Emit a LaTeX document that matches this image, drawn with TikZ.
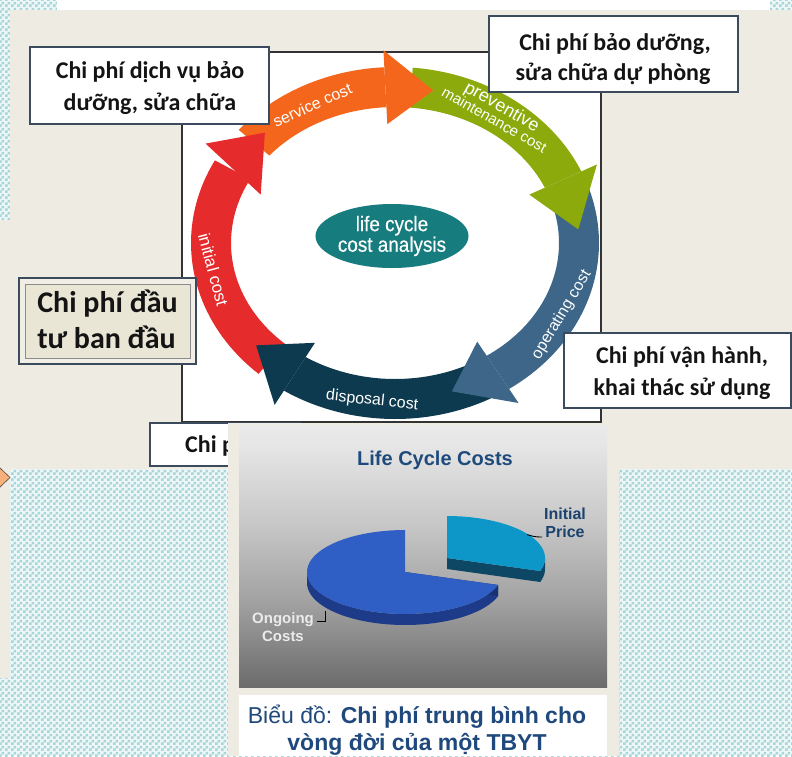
\documentclass[tikz,border=0pt]{standalone}
\usepackage{fontspec}
\usetikzlibrary{shapes.geometric,patterns}
\newfontfamily\arialf{Liberation Sans}
\newfontfamily\arialn[FakeStretch=0.9,FakeBold=0.4]{Liberation Sans}
\newfontfamily\calib{Carlito}

\definecolor{beige}{HTML}{EDEBE2}
\definecolor{chkc}{HTML}{A6D6DA}
\definecolor{chkbg}{HTML}{EEF7F7}
\definecolor{boxline}{HTML}{3B4A5C}
\definecolor{cred}{HTML}{E62B2C}
\definecolor{corange}{HTML}{F4661B}
\definecolor{cgreen}{HTML}{8CAA0C}
\definecolor{cblue}{HTML}{3D6688}
\definecolor{cnavy}{HTML}{0D3A4E}
\definecolor{cteal}{HTML}{177C7E}
\definecolor{pieblue}{HTML}{2F5EC4}
\definecolor{piebluesd}{HTML}{1D3B88}
\definecolor{pielb}{HTML}{0C97C8}
\definecolor{pielbsd}{HTML}{0D4763}
\definecolor{titleblue}{HTML}{1F4A7C}
\definecolor{capblue}{HTML}{1F497D}
\definecolor{bevel}{HTML}{F1EFE5}
\definecolor{bevelin}{HTML}{E9E6D6}
\definecolor{orangeL}{HTML}{F8B07A}

\pgfdeclarepatternformonly{chk}{\pgfpointorigin}{\pgfqpoint{6pt}{6pt}}{\pgfqpoint{6pt}{6pt}}{%
 \pgfpathrectangle{\pgfpointorigin}{\pgfqpoint{3pt}{3pt}}%
 \pgfpathrectangle{\pgfqpoint{3pt}{3pt}}{\pgfqpoint{3pt}{3pt}}%
 \pgfusepath{fill}}

\pgfdeclareverticalshading{chartsh}{100bp}{color(0bp)=(black); color(13bp)=(black!80); color(25bp)=(black!58); color(41bp)=(black!37); color(56bp)=(black!22); color(71bp)=(black!10); color(87bp)=(black!3); color(100bp)=(white)}

\newcommand\ringband[3]{\fill[#1] plot[domain=#2:#3,samples=40] ({ex(\x,20)},{ey(\x,20)}) -- plot[domain=#3:#2,samples=40] ({ex(\x,-20)},{ey(\x,-20)}) -- cycle;}
\newcommand\ringhead[4]{\fill[#1] ({ex(#2,37)},{ey(#2,37)}) -- ({ex(#4,0)},{ey(#4,0)}) -- ({ex(#3,-37)},{ey(#3,-37)}) -- cycle;}

\tikzset{
  bandtxt/.style={text=white, inner sep=0pt, anchor=base, font=\arialf\fontsize{16}{16}\selectfont},
  vbox/.style={draw=boxline, line width=1.4pt, fill=white, inner sep=0pt},
  vtxt/.style={font=\calib\bfseries\fontsize{24}{28}\selectfont, inner sep=0pt, text=black!92, anchor=base},
  vtxtL/.style={font=\calib\bfseries\fontsize{30}{34}\selectfont, inner sep=0pt, text=black!92, anchor=base},
  pielabel/.style={font=\arialf\bfseries\fontsize{15}{18}\selectfont, inner sep=0pt, align=center},
  captxt/.style={font=\arialf\fontsize{23}{27}\selectfont, inner sep=0pt, text=capblue, anchor=base},
}

\begin{document}
\begin{tikzpicture}[x=1pt,y=-1pt,
  declare function={ex(\ang,\off)=395+(184+\off)*cos(\ang); ey(\ang,\off)=243-(156+\off)*sin(\ang);}]
\useasboundingbox (0,0) rectangle (792,756);

% background
\fill[chkbg] (0,0) rectangle (792,756);
\fill[pattern=chk, pattern color=chkc] (0,0) rectangle (792,756);
\fill[white] (57,0) rectangle (770,10);
\fill[beige] (10,10) -- (792,10) -- (792,469) -- (619,469) -- (619,756) -- (228,756) -- (228,469)
  -- (10,469) -- (10,678) -- (0,678) -- (0,220) -- (10,220) -- cycle;
\filldraw[fill=orangeL, draw=black!70, line width=0.6pt] (-2,466) -- (10,477.5) -- (-2,489) -- cycle;

% cycle diagram frame
\filldraw[fill=white, draw=black!80, line width=1.2pt] (182,52) rectangle (601,422);

% ring bands
\ringband{cred}{228}{152}
\ringband{corange}{140}{93}
\ringband{cgreen}{85}{24}
\ringband{cblue}{18}{-56}
\ringband{cnavy}{-62}{-123}
% heads
\ringhead{cred}{149}{156}{135}
\ringhead{corange}{93}{93}{78}
\ringhead{cgreen}{24}{24}{5}
\ringhead{cblue}{-56}{-56}{-72}
\ringhead{cnavy}{237}{237}{221}
% band texts
\node[bandtxt, rotate=24] (tsc) at (314.6,110.2) {service cost};
\node[text=white, inner sep=0pt, align=center, rotate=-29.5, font=\arialf\fontsize{15}{15}\selectfont]
  (tpm) at (498.7,112.4) {{\fontsize{18}{15}\selectfont preventive}\\maintenance cost};
\node[bandtxt, rotate=59] (toc) at (565.2,317) {operating cost};
\node[bandtxt, rotate=-6] (tdc) at (371.7,404.8) {disposal cost};
\node[bandtxt, rotate=-75, font=\arialf\fontsize{17}{17}\selectfont] (tic) at (207.5,271.3) {initial cost};

\node[ellipse, fill=cteal, minimum width=132pt, minimum height=64pt, inner sep=0pt, text=white,
  align=center, font=\arialn\fontsize{21}{18}\selectfont] (lcca) at (392,236) {life cycle\\cost analysis};

% boxes
\node[vbox, minimum width=239pt, minimum height=77pt] (b1) at (149.5,85.5) {};
\node[vtxt] (b1a) at (150,78) {Chi phí dịch vụ bảo};
\node[vtxt] (b1b) at (150,110) {dưỡng, sửa chữa};

\node[vbox, minimum width=249pt, minimum height=76pt] (b2) at (613.5,54) {};
\node[vtxt] (b2a) at (615,50) {Chi phí bảo dưỡng,};
\node[vtxt] (b2b) at (613,80) {sửa chữa dự phòng};

\node[draw=boxline, line width=1.3pt, fill=bevel, minimum width=177pt, minimum height=86pt, inner sep=0pt] (b3) at (107.5,321) {};
\node[draw=black!45, line width=0.8pt, fill=bevelin, minimum width=165pt, minimum height=74pt, inner sep=0pt] (b3in) at (107.5,321) {};
\node[vtxtL] (b3a) at (107.5,312) {Chi phí đầu};
\node[vtxtL] (b3b) at (106.5,348) {tư ban đầu};

\node[vbox, minimum width=227pt, minimum height=75pt] (b4) at (677.5,370.5) {};
\node[vtxt] (b4a) at (682,363) {Chi phí vận hành,};
\node[vtxt] (b4b) at (682,395) {khai thác sử dụng};

\node[vbox, minimum width=150pt, minimum height=43pt] (b5) at (225,444.5) {};
\node[vtxt, anchor=base west] (b5a) at (185,452) {Chi p};

% chart image
\fill[beige] (228,422.5) rectangle (619,756);
\shade[shading=chartsh] (239,425) rectangle (607,687);
\node[font=\arialf\bfseries\fontsize{20}{20}\selectfont, text=titleblue, inner sep=0pt, anchor=base] (lct) at (435,465) {Life Cycle Costs};

% light blue slice (exploded)
\fill[pielbsd] plot[domain=342:360,samples=10] ({447+98*cos(\x)},{558-42*sin(\x)}) -- plot[domain=360:342,samples=10] ({447+98*cos(\x)},{569-42*sin(\x)}) -- cycle;
\fill[pielbsd] (447,558) -- (540.2,571) -- (540.2,582) -- (447,569) -- cycle;
\fill[pielb] (447,558) -- plot[domain=-18:90,samples=40] ({447+98*cos(\x)},{558-42*sin(\x)}) -- cycle;
% blue slice
\fill[piebluesd] plot[domain=180:342,samples=40] ({405+98*cos(\x)},{572-42*sin(\x)}) -- plot[domain=342:180,samples=40] ({405+98*cos(\x)},{583-42*sin(\x)}) -- cycle;
\fill[piebluesd!85!black] (405,572) -- (498.2,585) -- (498.2,596) -- (405,583) -- cycle;
\fill[pieblue] (405,572) -- plot[domain=90:342,samples=60] ({405+98*cos(\x)},{572-42*sin(\x)}) -- cycle;

\node[pielabel, text=titleblue!90!black, font=\arialf\bfseries\fontsize{16}{18}\selectfont] (ip) at (565,523) {Initial\\Price};
\coordinate (ipl1) at (527,534.5);
\coordinate (ipl2) at (542,537);
\draw[black, line width=0.9pt] (ipl1) to[bend right=10] (ipl2);
\node[pielabel, text=black!8] (oc) at (283,627) {Ongoing\\Costs};
\coordinate (ocl1) at (317,621);
\coordinate (ocl2) at (325,621);
\coordinate (ocl3) at (325,611);
\draw[black, line width=0.9pt] (ocl1) -- (ocl2) -- (ocl3);

% caption
\fill[white] (239,695) rectangle (607,756);
\node[captxt] (cap1) at (417,723) {Biểu đồ: \textbf{Chi phí trung bình cho}};
\node[captxt] (cap2) at (417,750) {\textbf{vòng đời của một TBYT}};
\end{tikzpicture}
\end{document}
